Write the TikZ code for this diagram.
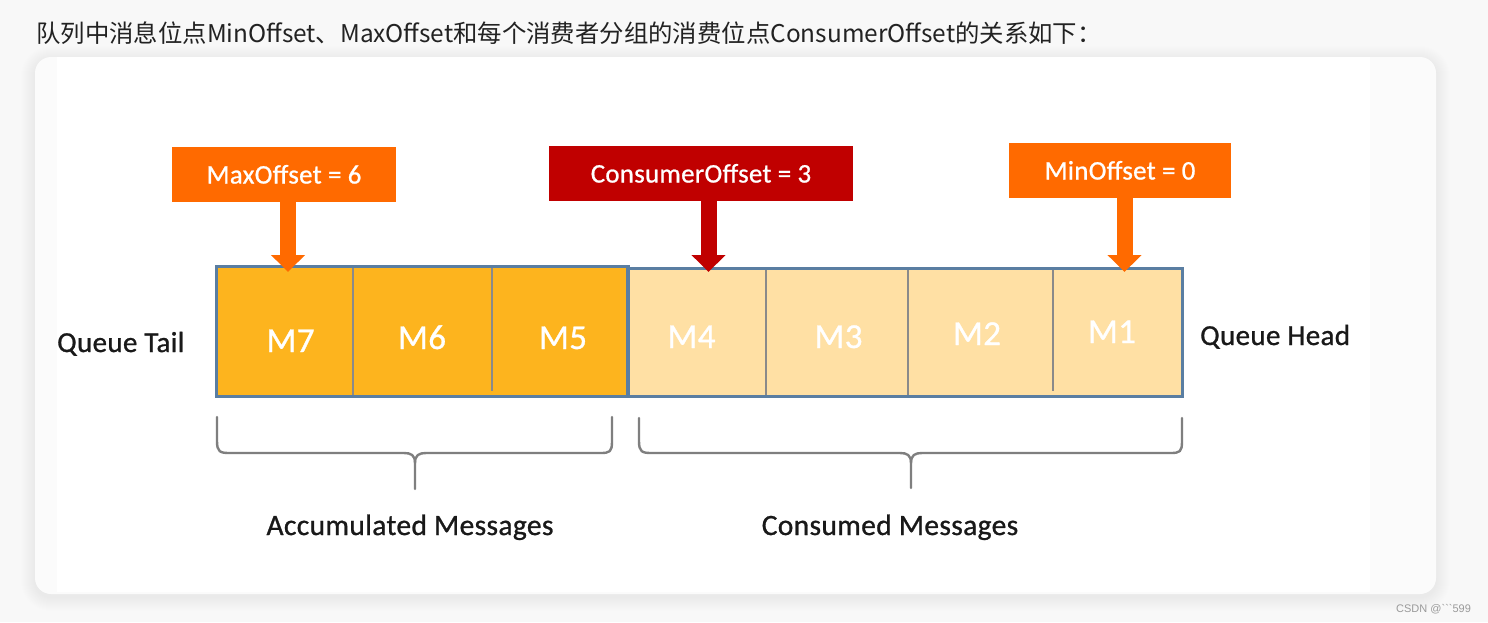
\documentclass[tikz,border=0pt]{standalone}
\usepackage{fontspec}
\setmainfont{Carlito}
\newfontfamily\lbl{Carlito}[FakeBold=0.9, LetterSpace=1.2]
\newfontfamily\cjk{Noto Sans CJK SC}
\newfontfamily\wmfont{Liberation Sans}
\usetikzlibrary{arrows.meta}
\definecolor{pagebg}{HTML}{F8F8F8}
\definecolor{cardbg}{HTML}{FBFBFB}
\definecolor{titlec}{HTML}{222222}
\definecolor{orangeB}{HTML}{FF6A00}
\definecolor{redB}{HTML}{C00000}
\definecolor{darkcell}{HTML}{FDB41E}
\definecolor{lightcell}{HTML}{FFE0A4}
\definecolor{qborder}{HTML}{5A7EA2}
\definecolor{divc}{HTML}{8A8A8A}
\definecolor{bracec}{HTML}{7F7F7F}
\definecolor{wmc}{HTML}{9A9A9A}
\tikzset{
  tagbox/.style={draw=none, inner sep=0pt, text=white, minimum height=55pt,
    font=\lbl\fontsize{26.8}{30}\selectfont, text height=18pt, text depth=0pt},
  pointer/.style={line width=16pt, -{Triangle[width=33pt,length=17pt]}},
  celllabel/.style={anchor=base, inner sep=0pt, text=white, font=\lbl\fontsize{35}{40}\selectfont},
  sidelabel/.style={anchor=base west, inner sep=0pt, text=black!90, font=\lbl\fontsize{29}{34}\selectfont},
  grouplabel/.style={anchor=base, inner sep=0pt, text=black!90, font=\lbl\fontsize{29.5}{34}\selectfont},
  bracepath/.style={draw=bracec, line width=2.4pt, line cap=round, line join=round},
}
\begin{document}
\begin{tikzpicture}[x=1pt,y=-1pt]
\useasboundingbox (0,0) rectangle (1488,622);
\fill[pagebg] (0,0) rectangle (1488,622);
% card shadow
\foreach \i in {1,...,14}{
  \fill[black, opacity=0.0035, rounded corners=16+\i] (35-\i,57-\i+3) rectangle (1436+\i,594+\i+3);
}
\fill[cardbg, rounded corners=16] (35,57) rectangle (1436,594);
\fill[white] (57,57) rectangle (1370,592);
% title
\node[anchor=base west, inner sep=0pt, text=titlec, font=\cjk\fontsize{24.4}{28}\selectfont] (title) at (36,42)
  {队列中消息位点MinOffset、MaxOffset和每个消费者分组的消费位点ConsumerOffset的关系如下：};
% queue cells
\fill[darkcell] (217,267) rectangle (628,396);
\fill[lightcell] (628,269) rectangle (1182,396);
\node[inner sep=0pt, minimum width=136pt, minimum height=129pt] (c7) at (285,331.5) {};
\node[inner sep=0pt, minimum width=139pt, minimum height=129pt] (c6) at (422.5,331.5) {};
\node[inner sep=0pt, minimum width=136pt, minimum height=129pt] (c5) at (560,331.5) {};
\node[inner sep=0pt, minimum width=138pt, minimum height=127pt] (c4) at (697,332.5) {};
\node[inner sep=0pt, minimum width=142pt, minimum height=127pt] (c3) at (837,332.5) {};
\node[inner sep=0pt, minimum width=145pt, minimum height=127pt] (c2) at (980.5,332.5) {};
\node[inner sep=0pt, minimum width=129pt, minimum height=127pt] (c1) at (1117.5,332.5) {};
\draw[divc, line width=2pt] (c7.north east) -- (c7.south east);
\draw[divc, line width=2pt] (c6.north east) -- ([yshift=5pt]c6.south east);
\draw[divc, line width=2pt] (c4.north east) -- (c4.south east);
\draw[divc, line width=2pt] (c3.north east) -- (c3.south east);
\draw[divc, line width=2pt] (c2.north east) -- ([yshift=5pt]c2.south east);
\draw[qborder, line width=2.8pt] (c7.north west) rectangle (c5.south east);
\draw[qborder, line width=2.8pt] (c4.north west) rectangle (c1.south east);
\node[celllabel] (m7) at (290.5,352) {M7};
\node[celllabel] (m6) at (422,349) {M6};
\node[celllabel] (m5) at (563,349) {M5};
\node[celllabel] (m4) at (691.5,348) {M4};
\node[celllabel] (m3) at (838.5,348) {M3};
\node[celllabel] (m2) at (977,345) {M2};
\node[celllabel] (m1) at (1112,343) {M1};
% side labels
\node[sidelabel] (tail) at (57,352) {Queue Tail};
\node[sidelabel] (head) at (1200,345) {Queue Head};
% offset boxes
\node[tagbox, fill=orangeB, minimum width=224pt] (maxb) at (284,174.5) {MaxOffset = 6};
\node[tagbox, fill=redB, minimum width=304pt] (conb) at (701,173.5) {ConsumerOffset = 3};
\node[tagbox, fill=orangeB, minimum width=222pt] (minb) at (1120,170.5) {MinOffset = 0};
% pointers
\coordinate (tmax) at (288,272);
\coordinate (tcon) at (708.5,272);
\coordinate (tmin) at (1124.5,272);
\draw[pointer, orangeB] (maxb.south -| tmax) -- (tmax);
\draw[pointer, redB] (conb.south -| tcon) -- (tcon);
\draw[pointer, orangeB] (minb.south -| tmin) -- (tmin);
% braces
\draw[bracepath] (217,417) -- (217,441) .. controls (217,452) and (220,453) .. (230,453)
  -- (404,453) .. controls (411,453) and (415,455) .. (415,463) -- (415,489);
\draw[bracepath] (415,463) .. controls (415,455) and (419,453) .. (426,453)
  -- (600,453) .. controls (610,453) and (612,452) .. (612,441) -- (612,417);
\draw[bracepath] (639,418) -- (639,441) .. controls (639,452) and (642,453) .. (652,453)
  -- (900,453) .. controls (907,453) and (911,455) .. (911,463) -- (911,488);
\draw[bracepath] (911,463) .. controls (911,455) and (915,453) .. (922,453)
  -- (1170,453) .. controls (1180,453) and (1182,452) .. (1182,441) -- (1182,418);
\node[grouplabel] (acc) at (410,535) {Accumulated Messages};
\node[grouplabel] (con) at (890,535) {Consumed Messages};
% watermark
\node[anchor=base west, inner sep=0pt, text=wmc, font=\wmfont\fontsize{11}{13}\selectfont] (wm) at (1396,612)
  {CSDN @`\kern0pt`\kern0pt`599};
\end{tikzpicture}
\end{document}
